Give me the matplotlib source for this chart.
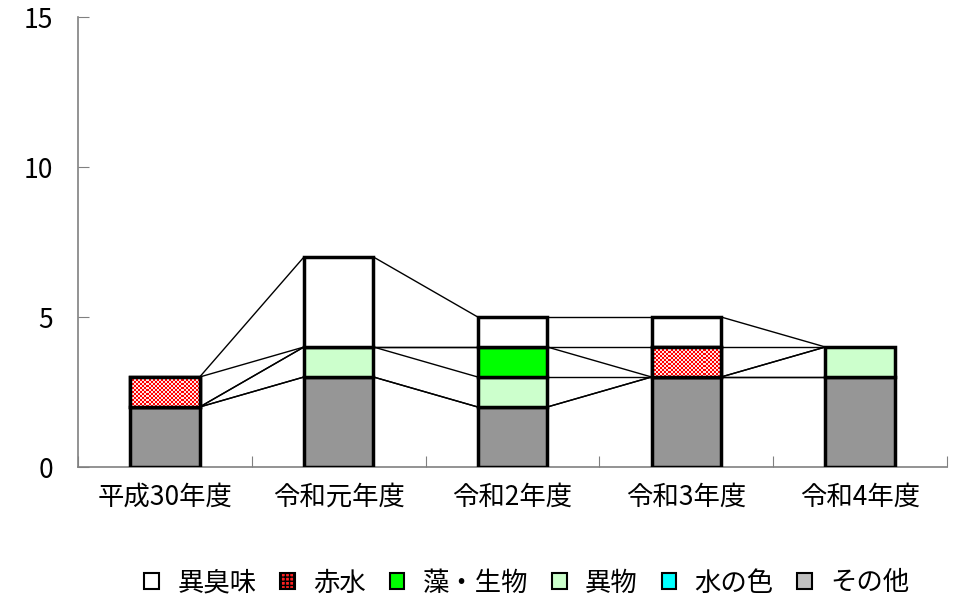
import numpy as np
import matplotlib
matplotlib.use("Agg")
import matplotlib.pyplot as plt
from matplotlib.patches import Patch
from matplotlib.ticker import FixedLocator

plt.rcParams['font.family'] = ['Noto Sans CJK JP', 'DejaVu Sans']

categories = ['平成30年度', '令和元年度', '令和2年度', '令和3年度', '令和4年度']
series_names = ['異臭味', '赤水', '藻・生物', '異物', '水の色', 'その他']
# stacked from bottom: その他, 水の色, 異物, 藻・生物, 赤水, 異臭味
sonota = [2, 3, 2, 3, 3]
mizunoiro = [0, 0, 0, 0, 0]
ibutsu = [0, 1, 1, 0, 1]
mo_seibutsu = [0, 0, 1, 0, 0]
akamizu = [1, 0, 0, 1, 0]
ishuumi = [0, 3, 1, 1, 0]
yticks = [0, 5, 10, 15]

stack = [
    ('その他', sonota, '#969696', None),
    ('水の色', mizunoiro, '#00FFFF', None),
    ('異物', ibutsu, '#CCFFCC', None),
    ('藻・生物', mo_seibutsu, '#00FF00', None),
    ('赤水', akamizu, '#FFFFFF', 'checker'),
    ('異臭味', ishuumi, '#FFFFFF', None),
]

fig = plt.figure(figsize=(9.64, 6.03), dpi=100)
ax = fig.add_axes([78/964, 1-467/603, (947-78)/964, (467-17)/603])
x = np.arange(len(categories))
width = 0.40
ax.set_xlim(-0.5, len(categories) - 0.5)
ax.set_ylim(0, 15)
fig.canvas.draw()

bottom = np.zeros(len(categories))
tops_list = []
for name, vals, color, pat in stack:
    vals = np.array(vals, dtype=float)
    for i in range(len(categories)):
        if vals[i] <= 0:
            continue
        ax.bar(x[i], vals[i], width, bottom=bottom[i], color=color,
               edgecolor='black', linewidth=2.5, zorder=3)
        if pat == 'checker':
            # pixel-based red/white checkerboard clipped to the bar
            p0 = ax.transData.transform((x[i] - width/2, bottom[i]))
            p1 = ax.transData.transform((x[i] + width/2, bottom[i] + vals[i]))
            nx = max(1, int(abs(p1[0]-p0[0]) / 2.0))
            ny = max(1, int(abs(p1[1]-p0[1]) / 2.0))
            cb = (np.add.outer(np.arange(ny), np.arange(nx)) % 2)
            img = np.ones((ny, nx, 3))
            img[cb == 0] = [1.0, 0.0, 0.0]
            img[cb == 1] = [1.0, 0.9, 0.9]
            ax.imshow(img, extent=(x[i]-width/2, x[i]+width/2, bottom[i], bottom[i]+vals[i]),
                      aspect='auto', interpolation='nearest', zorder=3.5)
            ax.bar(x[i], vals[i], width, bottom=bottom[i], color='none',
                   edgecolor='black', linewidth=2.5, zorder=4)
    bottom = bottom + vals
    tops_list.append(bottom.copy())

ax.set_xlim(-0.5, len(categories) - 0.5)
ax.set_ylim(0, 15)

# series lines connecting stack tops between bars
for tops in tops_list:
    for i in range(len(categories) - 1):
        ax.plot([x[i] + width/2, x[i+1] - width/2], [tops[i], tops[i+1]],
                color='black', linewidth=1.0, zorder=2)

for s in ['top', 'right']:
    ax.spines[s].set_visible(False)
for s in ['left', 'bottom']:
    ax.spines[s].set_color('#808080')
    ax.spines[s].set_linewidth(1.2)

ax.set_yticks(yticks)
ax.tick_params(axis='y', direction='in', length=8, color='#808080', labelsize=19, pad=18)
ax.xaxis.set_major_locator(FixedLocator(np.arange(len(categories) + 1) - 0.5))
ax.xaxis.set_minor_locator(FixedLocator(x))
ax.set_xticklabels([''] * (len(categories) + 1))
ax.set_xticklabels(categories, minor=True)
ax.tick_params(axis='x', which='major', direction='in', length=8, color='#808080')
ax.tick_params(axis='x', which='minor', length=0, labelsize=19, pad=12)

plt.rcParams['hatch.color'] = 'white'
handles = [
    Patch(facecolor='white', edgecolor='black', linewidth=1.5),
    Patch(facecolor='#FF2020', edgecolor='black', hatch='++++', linewidth=1.5),
    Patch(facecolor='#00FF00', edgecolor='black', linewidth=1.5),
    Patch(facecolor='#CCFFCC', edgecolor='black', linewidth=1.5),
    Patch(facecolor='#00FFFF', edgecolor='black', linewidth=1.5),
    Patch(facecolor='#C0C0C0', edgecolor='black', linewidth=1.5),
]
leg = fig.legend(handles, series_names, loc='center', bbox_to_anchor=(527/964, 1-583/603),
                 ncol=6, frameon=False, fontsize=19, handlelength=0.55, handleheight=0.55,
                 handletextpad=0.7, columnspacing=0.9)

fig.savefig('out.png', dpi=100)
